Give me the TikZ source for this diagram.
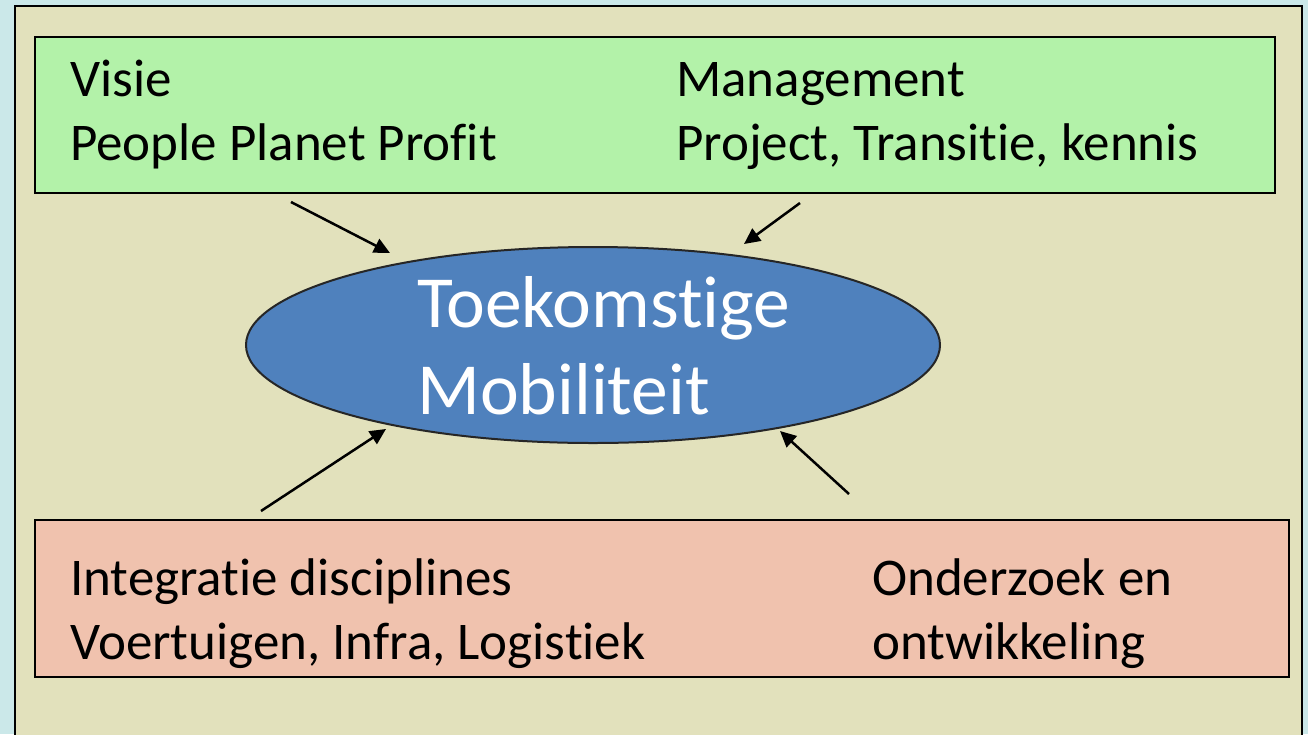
\documentclass[tikz,border=0pt]{standalone}
\usepackage{fontspec}
\setmainfont[RawFeature={-liga;-clig;-dlig}]{Carlito}
\usetikzlibrary{arrows.meta,shapes.geometric}
\definecolor{bgcyan}{HTML}{CBE8E9}
\definecolor{khaki}{HTML}{E2E1BC}
\definecolor{boxgreen}{HTML}{B3F2A9}
\definecolor{boxred}{HTML}{F0C2AE}
\definecolor{ellblue}{HTML}{4F81BD}
\tikzset{
  panel/.style={draw=black, line width=2pt},
  lbl/.style={anchor=base west, inner sep=0pt, font=\fontsize{53}{65}\selectfont, text=black},
  elltxt/.style={anchor=base west, inner sep=0pt, font=\fontsize{73.5}{88}\selectfont, text=white},
  arr/.style={line width=2.5pt, -{Triangle[length=16pt,width=15pt]}},
}
\begin{document}
\begin{tikzpicture}[x=1pt,y=-1pt]
\useasboundingbox (0,0) rectangle (1308,734);
\fill[bgcyan] (0,0) rectangle (1308,734);
% outer panel
\node[panel, fill=khaki, rectangle, minimum width=1287pt, minimum height=760pt, inner sep=0pt, anchor=north west] (outer) at (14,5) {};
% green box
\node[panel, fill=boxgreen, rectangle, minimum width=1240pt, minimum height=156pt, inner sep=0pt, anchor=north west] (top) at (34,36) {};
% red box
\node[panel, fill=boxred, rectangle, minimum width=1254pt, minimum height=157pt, inner sep=0pt, anchor=north west] (bottom) at (34,519) {};
% ellipse
\node[ellipse, draw=black!85, line width=2pt, fill=ellblue, minimum width=694pt, minimum height=196pt, inner sep=0pt] (ell) at (593,345) {};
% ellipse text
\node[elltxt] (t1) at (417,327) {Toekomstige};
\node[elltxt] (t2) at (417,414) {Mobiliteit};
% top texts
\node[lbl] (visie) at (70,96) {Visie};
\node[lbl] (ppp) at (70,160) {People Planet Profit};
\node[lbl] (mgmt) at (676,96) {Management};
\node[lbl] (ptk) at (676,160) {Project, Transitie, kennis};
% bottom texts
\node[lbl] (integ) at (70,595) {Integratie disciplines};
\node[lbl] (voer) at (70,659) {Voertuigen, Infra, Logistiek};
\node[lbl] (onder) at (872,595) {Onderzoek en};
\node[lbl] (ontw) at (872,659) {ontwikkeling};
% arrows
\coordinate (s1) at (291,202); \coordinate (e1) at (390,253);
\coordinate (s2) at (800,203); \coordinate (e2) at (744,244);
\coordinate (s3) at (261,511); \coordinate (e3) at (386,429);
\coordinate (s4) at (849,494); \coordinate (e4) at (780,431);
\draw[arr] (s1) -- (e1);
\draw[arr] (s2) -- (e2);
\draw[arr] (s3) -- (e3);
\draw[arr] (s4) -- (e4);
\end{tikzpicture}
\end{document}
